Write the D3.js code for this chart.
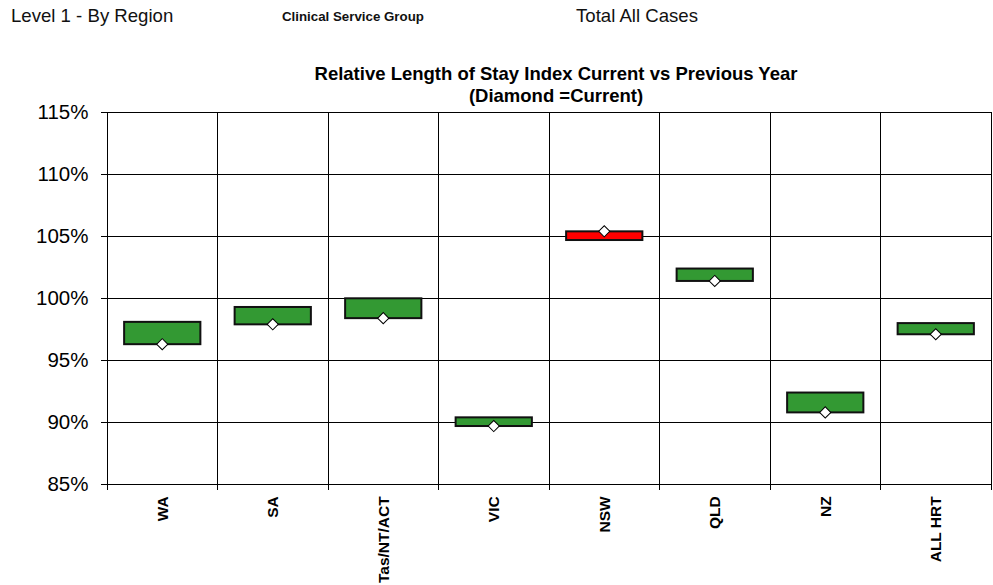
<!DOCTYPE html>
<html>
<head>
<meta charset="utf-8">
<script src="https://cdn.jsdelivr.net/npm/d3@7"></script>
<style>
  html, body { margin: 0; padding: 0; background: #fff; }
  svg { display: block; font-family: "Liberation Sans", Arial, sans-serif; }
</style>
</head>
<body>
<svg id="chart" width="993" height="585"></svg>
<script>
// Regions shown along the category axis
const regions = ["WA", "SA", "Tas/NT/ACT", "VIC", "NSW", "QLD", "NZ", "ALL HRT"];
// Relative length of stay index, previous year (one end of each bar)
const previousYear = [0.981, 0.993, 1.000, 0.904, 1.047, 1.024, 0.924, 0.980];
// Relative length of stay index, current year (diamond, other end of each bar)
const currentYear = [0.963, 0.979, 0.984, 0.897, 1.054, 1.014, 0.908, 0.971];
// Value axis ticks
const yTicks = [0.85, 0.90, 0.95, 1.00, 1.05, 1.10, 1.15];

const headerLeft = "Level 1 - By Region";
const headerMiddle = "Clinical Service Group";
const headerRight = "Total All Cases";
const titleLines = ["Relative Length of Stay Index Current vs Previous Year", "(Diamond =Current)"];

const svg = d3.select("#chart");
const plot = { left: 107, right: 991, top: 112.3, bottom: 484.3 };

const x = d3.scaleBand().domain(regions).range([plot.left, plot.right]).padding(0);
const y = d3.scaleLinear().domain([0.85, 1.15]).range([plot.bottom, plot.top]);

// Header line
svg.append("text").attr("x", 11).attr("y", 22).attr("font-size", 18.6).attr("fill", "#111").text(headerLeft);
svg.append("text").attr("x", 282).attr("y", 21).attr("font-size", 13.3).attr("font-weight", "bold").attr("fill", "#111").text(headerMiddle);
svg.append("text").attr("x", 576).attr("y", 22).attr("font-size", 18.6).attr("fill", "#111").text(headerRight);

// Chart title
svg.append("g").selectAll("text").data(titleLines).join("text")
  .attr("x", 556).attr("y", (d, i) => 80 + i * 22)
  .attr("text-anchor", "middle").attr("font-size", 18.5).attr("font-weight", "bold")
  .attr("fill", "#000").text(d => d);

// Horizontal gridlines
svg.append("g").selectAll("line").data(yTicks).join("line")
  .attr("x1", plot.left).attr("x2", plot.right)
  .attr("y1", d => y(d)).attr("y2", d => y(d))
  .attr("stroke", "#000").attr("stroke-width", 1).attr("shape-rendering", "crispEdges");

// Vertical category dividers (including plot edges)
const bounds = regions.map(r => x(r)).concat([plot.right]);
svg.append("g").selectAll("line").data(bounds).join("line")
  .attr("x1", d => d).attr("x2", d => d)
  .attr("y1", plot.top).attr("y2", plot.bottom + 6)
  .attr("stroke", "#000").attr("stroke-width", 1).attr("shape-rendering", "crispEdges");

// Value axis
const yAxis = d3.axisLeft(y).tickValues(yTicks).tickFormat(d3.format(".0%")).tickSize(6).tickPadding(12.5);
const gy = svg.append("g").attr("transform", `translate(${plot.left},0)`).call(yAxis);
gy.select(".domain").attr("stroke", "#000").attr("shape-rendering", "crispEdges");
gy.selectAll(".tick line").attr("stroke", "#000").attr("shape-rendering", "crispEdges");
gy.selectAll(".tick text").attr("font-size", 20.5).attr("font-family", "\"Liberation Sans\", Arial, sans-serif").attr("fill", "#000");

// Category axis baseline
svg.append("line").attr("x1", plot.left).attr("x2", plot.right)
  .attr("y1", plot.bottom).attr("y2", plot.bottom)
  .attr("stroke", "#000").attr("stroke-width", 1.5).attr("shape-rendering", "crispEdges");

// Category labels, rotated
svg.append("g").selectAll("text").data(regions).join("text")
  .attr("transform", d => `translate(${x(d) + x.bandwidth() / 2 + 5.5},${plot.bottom + 12}) rotate(-90)`)
  .attr("text-anchor", "end").attr("font-size", 15.5).attr("font-weight", "bold")
  .attr("fill", "#000").text(d => d);

// Floating bars spanning previous to current year
const data = regions.map((r, i) => ({ region: r, prev: previousYear[i], cur: currentYear[i] }));
const barW = x.bandwidth() * 0.69;
svg.append("g").selectAll("rect").data(data).join("rect")
  .attr("x", d => x(d.region) + (x.bandwidth() - barW) / 2)
  .attr("width", barW)
  .attr("y", d => y(Math.max(d.prev, d.cur)))
  .attr("height", d => Math.abs(y(d.prev) - y(d.cur)))
  .attr("fill", d => d.cur > d.prev ? "#ff0000" : "#339933")
  .attr("stroke", "#111").attr("stroke-width", 2);

// Current-year diamonds
const diamond = d3.symbol().type(d3.symbolSquare).size(62);
svg.append("g").selectAll("path").data(data).join("path")
  .attr("d", diamond)
  .attr("transform", d => `translate(${x(d.region) + x.bandwidth() / 2},${y(d.cur)}) rotate(45)`)
  .attr("fill", "#fff").attr("stroke", "#000").attr("stroke-width", 1);
</script>
</body>
</html>
